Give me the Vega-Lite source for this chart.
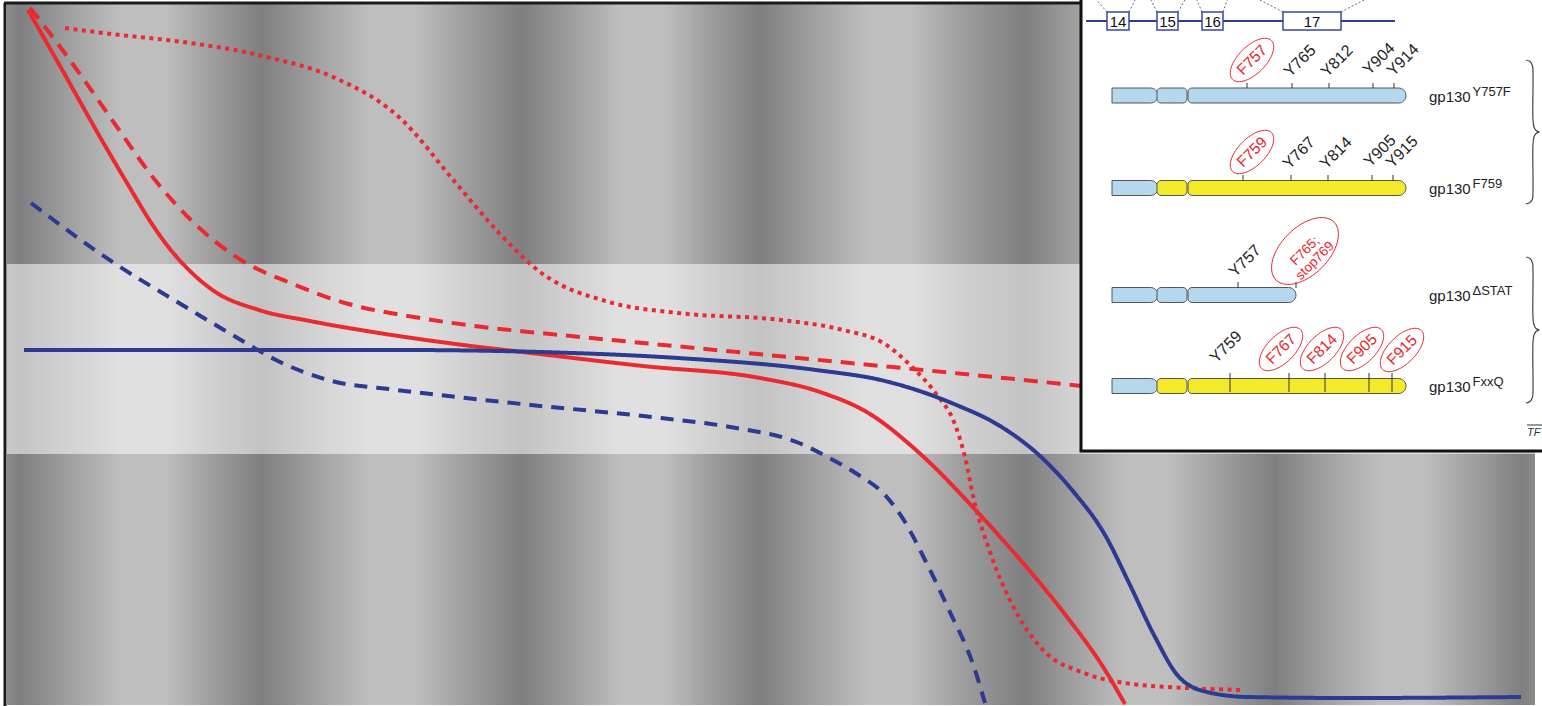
{
  "$schema": "https://vega.github.io/schema/vega-lite/v6.json",
  "width": 1542,
  "height": 706,
  "autosize": "none",
  "padding": 0,
  "background": "white",
  "view": {"stroke": null},
  "datasets": {
    "bands": [
      {"band": "top", "x": 7, "x2": 1535, "y": 4, "y2": 264},
      {"band": "bottom", "x": 7, "x2": 1535, "y": 454, "y2": 705}
    ],
    "mid": [
      {"band": "middle", "x": 7, "x2": 1535, "y": 264, "y2": 454}
    ],
    "frame": [
      {"x": 5, "y": 3, "x2": 5, "y2": 706},
      {"x": 4, "y": 3, "x2": 1082, "y2": 3}
    ],
    "curves": [
      {"s": "redSolid", "x": 28, "y": 10}, {"s": "redSolid", "x": 60, "y": 66}, {"s": "redSolid", "x": 100, "y": 137},
      {"s": "redSolid", "x": 130, "y": 188}, {"s": "redSolid", "x": 150, "y": 221}, {"s": "redSolid", "x": 170, "y": 249},
      {"s": "redSolid", "x": 190, "y": 271}, {"s": "redSolid", "x": 214, "y": 291}, {"s": "redSolid", "x": 259, "y": 310},
      {"s": "redSolid", "x": 310, "y": 321}, {"s": "redSolid", "x": 379, "y": 333}, {"s": "redSolid", "x": 448, "y": 343},
      {"s": "redSolid", "x": 531, "y": 353}, {"s": "redSolid", "x": 643, "y": 366}, {"s": "redSolid", "x": 760, "y": 378},
      {"s": "redSolid", "x": 820, "y": 392}, {"s": "redSolid", "x": 870, "y": 414}, {"s": "redSolid", "x": 916, "y": 450},
      {"s": "redSolid", "x": 982, "y": 517}, {"s": "redSolid", "x": 1023, "y": 563}, {"s": "redSolid", "x": 1064, "y": 613},
      {"s": "redSolid", "x": 1105, "y": 670}, {"s": "redSolid", "x": 1125, "y": 704},

      {"s": "redDashed", "x": 30, "y": 8}, {"s": "redDashed", "x": 55, "y": 40}, {"s": "redDashed", "x": 77, "y": 70},
      {"s": "redDashed", "x": 117, "y": 127}, {"s": "redDashed", "x": 155, "y": 180}, {"s": "redDashed", "x": 193, "y": 222},
      {"s": "redDashed", "x": 241, "y": 260}, {"s": "redDashed", "x": 293, "y": 284}, {"s": "redDashed", "x": 345, "y": 303},
      {"s": "redDashed", "x": 414, "y": 317}, {"s": "redDashed", "x": 483, "y": 327}, {"s": "redDashed", "x": 540, "y": 333},
      {"s": "redDashed", "x": 643, "y": 343}, {"s": "redDashed", "x": 747, "y": 353}, {"s": "redDashed", "x": 850, "y": 363},
      {"s": "redDashed", "x": 954, "y": 373}, {"s": "redDashed", "x": 1082, "y": 386},

      {"s": "redDotted", "x": 65, "y": 28}, {"s": "redDotted", "x": 120, "y": 35}, {"s": "redDotted", "x": 167, "y": 40},
      {"s": "redDotted", "x": 267, "y": 57}, {"s": "redDotted", "x": 333, "y": 77}, {"s": "redDotted", "x": 400, "y": 118},
      {"s": "redDotted", "x": 455, "y": 182}, {"s": "redDotted", "x": 500, "y": 234}, {"s": "redDotted", "x": 540, "y": 272},
      {"s": "redDotted", "x": 609, "y": 302}, {"s": "redDotted", "x": 678, "y": 313}, {"s": "redDotted", "x": 781, "y": 320},
      {"s": "redDotted", "x": 843, "y": 330}, {"s": "redDotted", "x": 885, "y": 344}, {"s": "redDotted", "x": 912, "y": 367},
      {"s": "redDotted", "x": 937, "y": 395}, {"s": "redDotted", "x": 954, "y": 422}, {"s": "redDotted", "x": 965, "y": 457},
      {"s": "redDotted", "x": 974, "y": 500}, {"s": "redDotted", "x": 990, "y": 552}, {"s": "redDotted", "x": 1015, "y": 610},
      {"s": "redDotted", "x": 1043, "y": 650}, {"s": "redDotted", "x": 1084, "y": 673}, {"s": "redDotted", "x": 1125, "y": 683},
      {"s": "redDotted", "x": 1187, "y": 688}, {"s": "redDotted", "x": 1244, "y": 690},

      {"s": "blueSolid", "x": 24, "y": 350}, {"s": "blueSolid", "x": 200, "y": 350}, {"s": "blueSolid", "x": 400, "y": 350},
      {"s": "blueSolid", "x": 540, "y": 352}, {"s": "blueSolid", "x": 678, "y": 358}, {"s": "blueSolid", "x": 816, "y": 370},
      {"s": "blueSolid", "x": 885, "y": 381}, {"s": "blueSolid", "x": 954, "y": 404}, {"s": "blueSolid", "x": 1000, "y": 426},
      {"s": "blueSolid", "x": 1040, "y": 456}, {"s": "blueSolid", "x": 1072, "y": 490}, {"s": "blueSolid", "x": 1105, "y": 535},
      {"s": "blueSolid", "x": 1130, "y": 585}, {"s": "blueSolid", "x": 1154, "y": 635}, {"s": "blueSolid", "x": 1179, "y": 677},
      {"s": "blueSolid", "x": 1207, "y": 692}, {"s": "blueSolid", "x": 1248, "y": 697}, {"s": "blueSolid", "x": 1351, "y": 698},
      {"s": "blueSolid", "x": 1521, "y": 697},

      {"s": "blueDashed", "x": 31, "y": 203}, {"s": "blueDashed", "x": 114, "y": 263}, {"s": "blueDashed", "x": 179, "y": 303},
      {"s": "blueDashed", "x": 241, "y": 340}, {"s": "blueDashed", "x": 276, "y": 360}, {"s": "blueDashed", "x": 328, "y": 380},
      {"s": "blueDashed", "x": 397, "y": 390}, {"s": "blueDashed", "x": 466, "y": 398}, {"s": "blueDashed", "x": 531, "y": 405},
      {"s": "blueDashed", "x": 661, "y": 418}, {"s": "blueDashed", "x": 730, "y": 427}, {"s": "blueDashed", "x": 799, "y": 443},
      {"s": "blueDashed", "x": 833, "y": 460}, {"s": "blueDashed", "x": 857, "y": 474}, {"s": "blueDashed", "x": 885, "y": 495},
      {"s": "blueDashed", "x": 905, "y": 522}, {"s": "blueDashed", "x": 925, "y": 560}, {"s": "blueDashed", "x": 949, "y": 610},
      {"s": "blueDashed", "x": 974, "y": 667}, {"s": "blueDashed", "x": 985, "y": 703}
    ],
    "inset": [
      {"x": 1081, "x2": 1600, "y": -20, "y2": 451}
    ],
    "connectors": [
      {"x": 1107, "y": 12, "x2": 1095, "y2": -2}, {"x": 1129, "y": 12, "x2": 1136, "y2": -2},
      {"x": 1157, "y": 12, "x2": 1150, "y2": -2}, {"x": 1178, "y": 12, "x2": 1186, "y2": -2},
      {"x": 1202, "y": 12, "x2": 1196, "y2": -2}, {"x": 1223, "y": 12, "x2": 1228, "y2": -2},
      {"x": 1283, "y": 12, "x2": 1256, "y2": -2}, {"x": 1341, "y": 12, "x2": 1368, "y2": -2}
    ],
    "exonLine": [
      {"x": 1086, "x2": 1395, "y": 21}
    ],
    "exons": [
      {"exon": "14", "x": 1107, "x2": 1129, "mid": 1118, "y": 12, "y2": 30, "yc": 21},
      {"exon": "15", "x": 1157, "x2": 1178, "mid": 1167.5, "y": 12, "y2": 30, "yc": 21},
      {"exon": "16", "x": 1202, "x2": 1223, "mid": 1212.5, "y": 12, "y2": 30, "yc": 21},
      {"exon": "17", "x": 1283, "x2": 1341, "mid": 1312, "y": 12, "y2": 30, "yc": 21}
    ],
    "segments": [
      {"row": "Y757F", "seg": 1, "x": 1112, "x2": 1158, "y": 95.5, "sp": "mouse"},
      {"row": "Y757F", "seg": 2, "x": 1157, "x2": 1187, "y": 95.5, "sp": "mouse"},
      {"row": "Y757F", "seg": 3, "x": 1188, "x2": 1406, "y": 95.5, "sp": "mouse"},
      {"row": "F759", "seg": 1, "x": 1112, "x2": 1158, "y": 188, "sp": "mouse"},
      {"row": "F759", "seg": 2, "x": 1157, "x2": 1187, "y": 188, "sp": "human"},
      {"row": "F759", "seg": 3, "x": 1188, "x2": 1406, "y": 188, "sp": "human"},
      {"row": "dSTAT", "seg": 1, "x": 1112, "x2": 1158, "y": 295, "sp": "mouse"},
      {"row": "dSTAT", "seg": 2, "x": 1157, "x2": 1187, "y": 295, "sp": "mouse"},
      {"row": "dSTAT", "seg": 3, "x": 1188, "x2": 1296, "y": 295, "sp": "mouse"},
      {"row": "FxxQ", "seg": 1, "x": 1112, "x2": 1158, "y": 386, "sp": "mouse"},
      {"row": "FxxQ", "seg": 2, "x": 1157, "x2": 1187, "y": 386, "sp": "human"},
      {"row": "FxxQ", "seg": 3, "x": 1188, "x2": 1406, "y": 386, "sp": "human"}
    ],
    "ticks": [
      {"x": 1247, "y": 83, "y2": 88}, {"x": 1292, "y": 83, "y2": 88}, {"x": 1329, "y": 83, "y2": 88},
      {"x": 1373, "y": 83, "y2": 88}, {"x": 1394, "y": 83, "y2": 88},
      {"x": 1243, "y": 175, "y2": 181}, {"x": 1291, "y": 175, "y2": 181}, {"x": 1328, "y": 175, "y2": 181},
      {"x": 1372, "y": 175, "y2": 181}, {"x": 1393, "y": 175, "y2": 181},
      {"x": 1238, "y": 282, "y2": 288}, {"x": 1296, "y": 282, "y2": 288},
      {"x": 1230, "y": 373, "y2": 392}, {"x": 1289, "y": 373, "y2": 392}, {"x": 1325, "y": 373, "y2": 392},
      {"x": 1369, "y": 373, "y2": 392}, {"x": 1392, "y": 373, "y2": 392}
    ],
    "sites": [
      {"x": 1252, "y": 60, "t": "F757", "m": "yes"},
      {"x": 1300, "y": 61, "t": "Y765", "m": "no"},
      {"x": 1337, "y": 61, "t": "Y812", "m": "no"},
      {"x": 1379, "y": 59, "t": "Y904", "m": "no"},
      {"x": 1403, "y": 60, "t": "Y914", "m": "no"},
      {"x": 1252, "y": 152, "t": "F759", "m": "yes"},
      {"x": 1299, "y": 153, "t": "Y767", "m": "no"},
      {"x": 1336, "y": 153, "t": "Y814", "m": "no"},
      {"x": 1380, "y": 151, "t": "Y905", "m": "no"},
      {"x": 1402, "y": 152, "t": "Y915", "m": "no"},
      {"x": 1245, "y": 261, "t": "Y757", "m": "no"},
      {"x": 1226, "y": 347, "t": "Y759", "m": "no"},
      {"x": 1281, "y": 349, "t": "F767", "m": "yes"},
      {"x": 1322, "y": 349, "t": "F814", "m": "yes"},
      {"x": 1362, "y": 349, "t": "F905", "m": "yes"},
      {"x": 1402, "y": 350, "t": "F915", "m": "yes"}
    ],
    "bigSite": [
      {"x": 1305, "y": 251, "t": "F765;\nstop769"}
    ],
    "rows": [
      {"x": 1429, "y": 95.5, "sup": "Y757F"},
      {"x": 1429, "y": 188, "sup": "F759"},
      {"x": 1429, "y": 295, "sup": "ΔSTAT"},
      {"x": 1429, "y": 386, "sup": "FxxQ"}
    ],
    "braces": [
      {"b": 1, "i": 0, "x": 1526, "y": 60}, {"b": 1, "i": 1, "x": 1530, "y": 61.5}, {"b": 1, "i": 2, "x": 1532.5, "y": 66},
      {"b": 1, "i": 3, "x": 1533, "y": 74}, {"b": 1, "i": 4, "x": 1533, "y": 120}, {"b": 1, "i": 5, "x": 1534, "y": 127},
      {"b": 1, "i": 6, "x": 1536, "y": 130.5}, {"b": 1, "i": 7, "x": 1539, "y": 132}, {"b": 1, "i": 8, "x": 1536, "y": 133.5},
      {"b": 1, "i": 9, "x": 1534, "y": 137}, {"b": 1, "i": 10, "x": 1533, "y": 144}, {"b": 1, "i": 11, "x": 1533, "y": 191},
      {"b": 1, "i": 12, "x": 1532.5, "y": 199}, {"b": 1, "i": 13, "x": 1530, "y": 202.5}, {"b": 1, "i": 14, "x": 1526, "y": 204},
      {"b": 2, "i": 0, "x": 1526, "y": 257}, {"b": 2, "i": 1, "x": 1530, "y": 258.5}, {"b": 2, "i": 2, "x": 1532.5, "y": 263},
      {"b": 2, "i": 3, "x": 1533, "y": 271}, {"b": 2, "i": 4, "x": 1533, "y": 318}, {"b": 2, "i": 5, "x": 1534, "y": 325},
      {"b": 2, "i": 6, "x": 1536, "y": 328.5}, {"b": 2, "i": 7, "x": 1539, "y": 330}, {"b": 2, "i": 8, "x": 1536, "y": 331.5},
      {"b": 2, "i": 9, "x": 1534, "y": 335}, {"b": 2, "i": 10, "x": 1533, "y": 342}, {"b": 2, "i": 11, "x": 1533, "y": 389},
      {"b": 2, "i": 12, "x": 1532.5, "y": 397}, {"b": 2, "i": 13, "x": 1530, "y": 401.5}, {"b": 2, "i": 14, "x": 1526, "y": 403}
    ],
    "tf": [
      {"x": 1527, "y": 436, "t": "TF"}
    ],
    "tfLine": [
      {"x": 1527, "x2": 1545, "y": 425}
    ]
  },
  "encoding": {
    "x": {"field": "x", "type": "quantitative", "scale": {"domain": [0, 1542], "nice": false, "zero": false}, "axis": null},
    "y": {"field": "y", "type": "quantitative", "scale": {"domain": [0, 706], "reverse": true, "nice": false, "zero": false}, "axis": null}
  },
  "layer": [
    {
      "data": {"name": "bands"},
      "mark": {
        "type": "rect",
        "fill": {
          "gradient": "linear",
          "stops": [
            {"offset": 0, "color": "#8a8a8a"}, {"offset": 0.0085, "color": "#7f7f7f"}, {"offset": 0.0445, "color": "#a3a3a3"},
            {"offset": 0.074, "color": "#bebebe"}, {"offset": 0.1034, "color": "#bebebe"}, {"offset": 0.1361, "color": "#9c9c9c"},
            {"offset": 0.1669, "color": "#7f7f7f"}, {"offset": 0.2048, "color": "#a3a3a3"}, {"offset": 0.2376, "color": "#bebebe"},
            {"offset": 0.267, "color": "#bebebe"}, {"offset": 0.303, "color": "#9c9c9c"}, {"offset": 0.337, "color": "#7f7f7f"},
            {"offset": 0.375, "color": "#a3a3a3"}, {"offset": 0.4012, "color": "#bebebe"}, {"offset": 0.4306, "color": "#bebebe"},
            {"offset": 0.4614, "color": "#9c9c9c"}, {"offset": 0.4928, "color": "#7f7f7f"}, {"offset": 0.532, "color": "#a3a3a3"},
            {"offset": 0.5635, "color": "#bebebe"}, {"offset": 0.591, "color": "#bebebe"}, {"offset": 0.627, "color": "#9c9c9c"},
            {"offset": 0.6662, "color": "#7f7f7f"}, {"offset": 0.7022, "color": "#a3a3a3"}, {"offset": 0.7317, "color": "#bebebe"},
            {"offset": 0.7611, "color": "#bebebe"}, {"offset": 0.7971, "color": "#9c9c9c"}, {"offset": 0.8298, "color": "#7f7f7f"},
            {"offset": 0.8658, "color": "#a3a3a3"}, {"offset": 0.8986, "color": "#bebebe"}, {"offset": 0.928, "color": "#bebebe"},
            {"offset": 0.9627, "color": "#9c9c9c"}, {"offset": 0.9915, "color": "#7f7f7f"}, {"offset": 1, "color": "#8a8a8a"}
          ]
        }
      },
      "encoding": {"x2": {"field": "x2"}, "y2": {"field": "y2"}}
    },
    {
      "data": {"name": "mid"},
      "mark": {
        "type": "rect",
        "fill": {
          "gradient": "linear",
          "stops": [
            {"offset": 0, "color": "#cacaca"}, {"offset": 0.0085, "color": "#c4c4c4"}, {"offset": 0.0445, "color": "#d4d4d4"},
            {"offset": 0.074, "color": "#e0e0e0"}, {"offset": 0.1034, "color": "#e0e0e0"}, {"offset": 0.1361, "color": "#d0d0d0"},
            {"offset": 0.1669, "color": "#c3c3c3"}, {"offset": 0.2048, "color": "#d4d4d4"}, {"offset": 0.2376, "color": "#e0e0e0"},
            {"offset": 0.267, "color": "#e0e0e0"}, {"offset": 0.303, "color": "#d0d0d0"}, {"offset": 0.337, "color": "#c3c3c3"},
            {"offset": 0.375, "color": "#d4d4d4"}, {"offset": 0.4012, "color": "#e0e0e0"}, {"offset": 0.4306, "color": "#e0e0e0"},
            {"offset": 0.4614, "color": "#d0d0d0"}, {"offset": 0.4928, "color": "#c3c3c3"}, {"offset": 0.532, "color": "#d4d4d4"},
            {"offset": 0.5635, "color": "#e0e0e0"}, {"offset": 0.591, "color": "#e0e0e0"}, {"offset": 0.627, "color": "#d0d0d0"},
            {"offset": 0.6662, "color": "#c3c3c3"}, {"offset": 0.7022, "color": "#d4d4d4"}, {"offset": 0.7317, "color": "#e0e0e0"},
            {"offset": 0.7611, "color": "#e0e0e0"}, {"offset": 0.7971, "color": "#d0d0d0"}, {"offset": 0.8298, "color": "#c3c3c3"},
            {"offset": 0.8658, "color": "#d4d4d4"}, {"offset": 0.8986, "color": "#e0e0e0"}, {"offset": 0.928, "color": "#e0e0e0"},
            {"offset": 0.9627, "color": "#d0d0d0"}, {"offset": 0.9915, "color": "#c3c3c3"}, {"offset": 1, "color": "#cacaca"}
          ]
        }
      },
      "encoding": {"x2": {"field": "x2"}, "y2": {"field": "y2"}}
    },
    {
      "data": {"name": "frame"},
      "mark": {"type": "rule", "color": "#1a1a1a", "strokeWidth": 3},
      "encoding": {"x2": {"field": "x2"}, "y2": {"field": "y2"}}
    },
    {
      "data": {"name": "curves"},
      "mark": {"type": "line", "interpolate": "monotone", "strokeWidth": 4, "strokeCap": "butt"},
      "encoding": {
        "color": {"field": "s", "type": "nominal", "legend": null,
          "scale": {"domain": ["redSolid", "redDashed", "redDotted", "blueSolid", "blueDashed"],
                    "range": ["#ea2a30", "#ea2a30", "#ea2a30", "#2c3a92", "#2c3a92"]}},
        "strokeDash": {"field": "s", "type": "nominal", "legend": null,
          "scale": {"domain": ["redSolid", "redDashed", "redDotted", "blueSolid", "blueDashed"],
                    "range": [[1, 0], [14, 9], [4, 4.5], [1, 0], [13, 9]]}}
      }
    },
    {
      "data": {"name": "inset"},
      "mark": {"type": "rect", "fill": "white", "stroke": "#111111", "strokeWidth": 3},
      "encoding": {"x2": {"field": "x2"}, "y2": {"field": "y2"}}
    },
    {
      "data": {"name": "connectors"},
      "mark": {"type": "rule", "color": "#666666", "strokeWidth": 1, "strokeDash": [2, 2]},
      "encoding": {"x2": {"field": "x2"}, "y2": {"field": "y2"}}
    },
    {
      "data": {"name": "exonLine"},
      "mark": {"type": "rule", "color": "#2e3a94", "strokeWidth": 2},
      "encoding": {"x2": {"field": "x2"}}
    },
    {
      "data": {"name": "exons"},
      "mark": {"type": "rect", "fill": "white", "stroke": "#3a46a0", "strokeWidth": 1.5},
      "encoding": {"x2": {"field": "x2"}, "y2": {"field": "y2"}}
    },
    {
      "data": {"name": "exons"},
      "mark": {"type": "text", "font": "Liberation Sans", "fontSize": 15, "color": "#111111", "align": "center", "baseline": "middle", "dy": 1},
      "encoding": {
        "x": {"field": "mid", "type": "quantitative"},
        "y": {"field": "yc", "type": "quantitative"},
        "text": {"field": "exon"}
      }
    },
    {
      "data": {"name": "segments"},
      "transform": [{"filter": "datum.seg == 1"}],
      "mark": {"type": "rect", "height": 15, "stroke": "#555555", "strokeWidth": 1, "cornerRadiusTopRight": 9, "cornerRadiusBottomRight": 9},
      "encoding": {
        "x2": {"field": "x2"},
        "fill": {"field": "sp", "type": "nominal", "legend": null, "scale": {"domain": ["mouse", "human"], "range": ["#b5d8ef", "#f3ea2a"]}}
      }
    },
    {
      "data": {"name": "segments"},
      "transform": [{"filter": "datum.seg == 2"}],
      "mark": {"type": "rect", "height": 15, "stroke": "#555555", "strokeWidth": 1, "cornerRadius": 4},
      "encoding": {
        "x2": {"field": "x2"},
        "fill": {"field": "sp", "type": "nominal", "legend": null, "scale": {"domain": ["mouse", "human"], "range": ["#b5d8ef", "#f3ea2a"]}}
      }
    },
    {
      "data": {"name": "segments"},
      "transform": [{"filter": "datum.seg == 3"}],
      "mark": {"type": "rect", "height": 15, "stroke": "#555555", "strokeWidth": 1, "cornerRadiusTopLeft": 4, "cornerRadiusBottomLeft": 4, "cornerRadiusTopRight": 7.5, "cornerRadiusBottomRight": 7.5},
      "encoding": {
        "x2": {"field": "x2"},
        "fill": {"field": "sp", "type": "nominal", "legend": null, "scale": {"domain": ["mouse", "human"], "range": ["#b5d8ef", "#f3ea2a"]}}
      }
    },
    {
      "data": {"name": "ticks"},
      "mark": {"type": "rule", "color": "#333333", "strokeWidth": 1},
      "encoding": {"y2": {"field": "y2"}}
    },
    {
      "data": {"name": "sites"},
      "transform": [{"filter": "datum.m == 'no'"}],
      "mark": {"type": "text", "font": "Liberation Sans", "fontSize": 16, "angle": -45, "align": "center", "baseline": "middle", "color": "#222222"},
      "encoding": {"text": {"field": "t"}}
    },
    {
      "data": {"name": "sites"},
      "transform": [{"filter": "datum.m == 'yes'"}],
      "mark": {"type": "text", "font": "Liberation Sans", "fontSize": 15.5, "angle": -45, "align": "center", "baseline": "middle", "color": "#e8262c"},
      "encoding": {"text": {"field": "t"}}
    },
    {
      "data": {"name": "sites"},
      "transform": [{"filter": "datum.m == 'yes'"}],
      "mark": {"type": "point", "filled": false, "stroke": "#e8262c", "strokeWidth": 1, "opacity": 1,
               "shape": "M -0.7071 0.7071 A 1 0.5 -45 0 1 0.7071 -0.7071 A 1 0.5 -45 0 1 -0.7071 0.7071 Z", "size": 3025}
    },
    {
      "data": {"name": "bigSite"},
      "mark": {"type": "text", "font": "Liberation Sans", "fontSize": 13.5, "angle": -45, "align": "center", "baseline": "middle", "lineBreak": "\n", "lineHeight": 14, "color": "#e8262c"},
      "encoding": {"text": {"field": "t"}}
    },
    {
      "data": {"name": "bigSite"},
      "mark": {"type": "point", "filled": false, "stroke": "#e8262c", "strokeWidth": 1, "opacity": 1,
               "shape": "M -0.7071 0.7071 A 1 0.58 -45 0 1 0.7071 -0.7071 A 1 0.58 -45 0 1 -0.7071 0.7071 Z", "size": 6724}
    },
    {
      "data": {"name": "rows"},
      "mark": {"type": "text", "font": "Liberation Sans", "fontSize": 15, "align": "left", "baseline": "alphabetic", "dy": 6, "color": "#222222"},
      "encoding": {"text": {"value": "gp130"}}
    },
    {
      "data": {"name": "rows"},
      "mark": {"type": "text", "font": "Liberation Sans", "fontSize": 13, "align": "left", "baseline": "alphabetic", "dx": 43.5, "dy": 0, "color": "#222222"},
      "encoding": {"text": {"field": "sup"}}
    },
    {
      "data": {"name": "braces"},
      "mark": {"type": "line", "interpolate": "catmull-rom", "color": "#444444", "strokeWidth": 1.2},
      "encoding": {
        "detail": {"field": "b", "type": "nominal"},
        "order": {"field": "i", "type": "quantitative"}
      }
    },
    {
      "data": {"name": "tf"},
      "mark": {"type": "text", "font": "Liberation Sans", "fontSize": 11, "fontStyle": "italic", "align": "left", "baseline": "alphabetic", "color": "#333333"},
      "encoding": {"text": {"field": "t"}}
    },
    {
      "data": {"name": "tfLine"},
      "mark": {"type": "rule", "color": "#333333", "strokeWidth": 1},
      "encoding": {"x2": {"field": "x2"}}
    }
  ]
}
